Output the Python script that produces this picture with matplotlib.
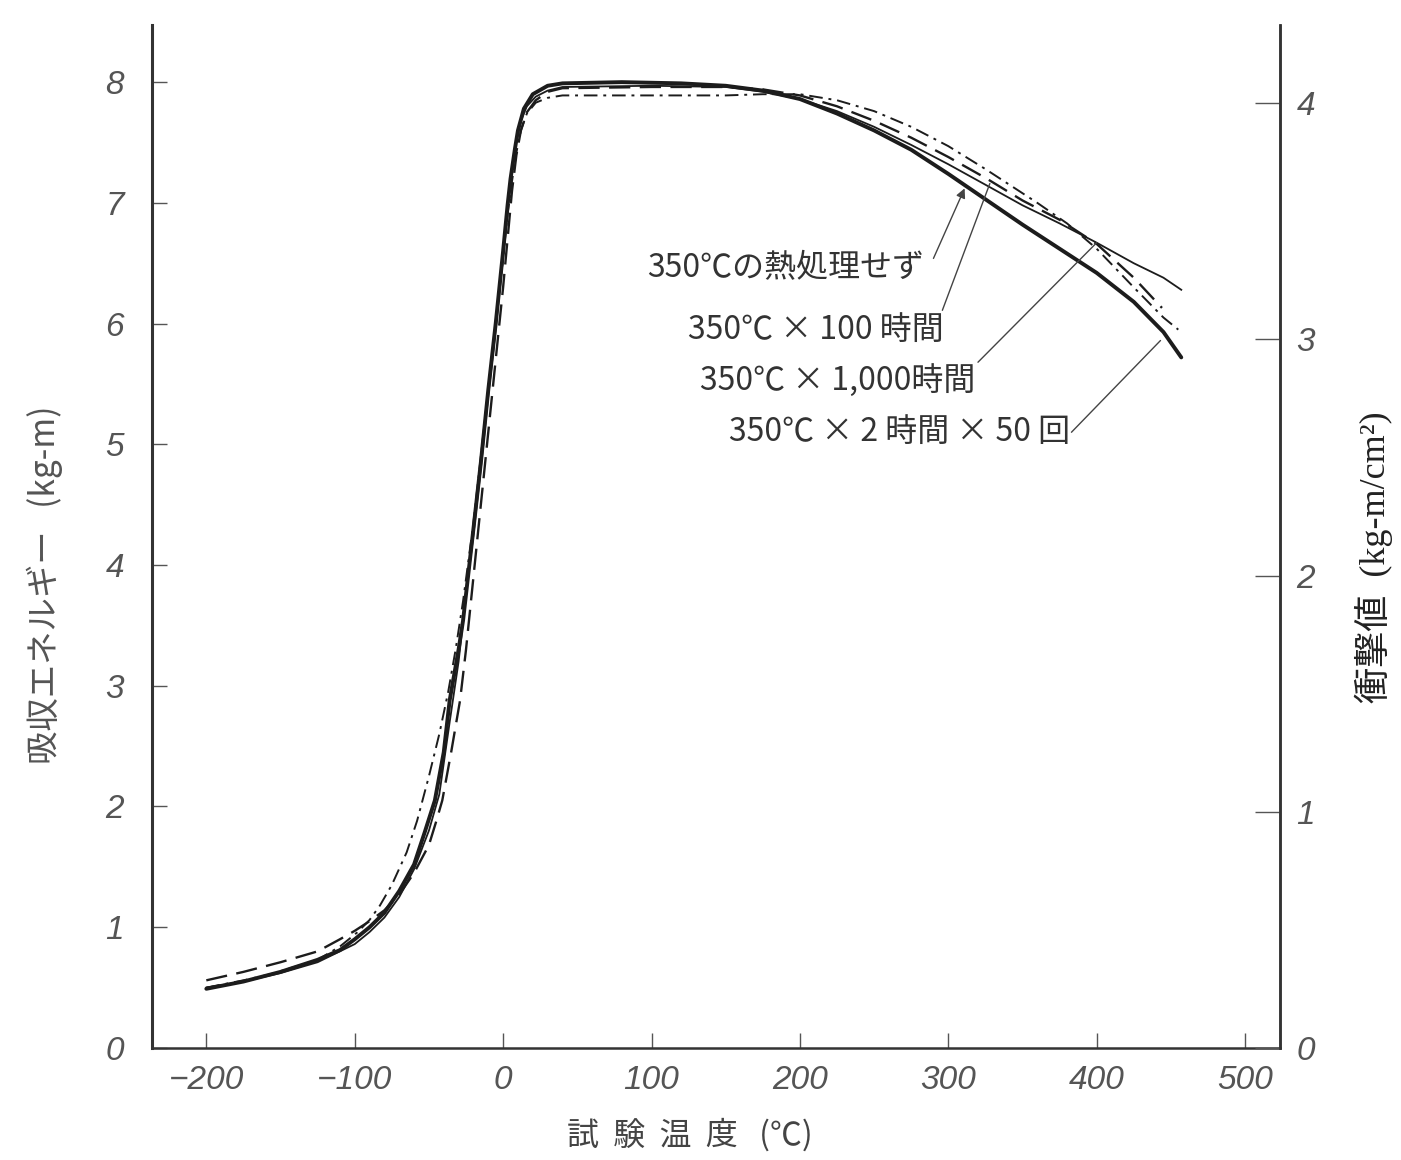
import matplotlib
matplotlib.use('Agg')
import matplotlib.pyplot as plt

plt.rcParams['font.family'] = ['Noto Sans CJK JP', 'DejaVu Sans']

# ---- data (temperature in C, absorbed energy in kg-m) ----
t_none = [-200, -175, -150, -125, -110, -100, -90, -80, -70, -60, -53, -46, -40, -36, -30, -27,
          -20, -15, -10, -5, 0, 3, 5, 8, 10, 14, 20, 30, 40, 80, 120, 150, 175, 200, 225, 250,
          275, 300, 325, 350, 375, 400, 425, 445, 457]
e_none = [0.49, 0.55, 0.63, 0.73, 0.81, 0.90, 1.00, 1.12, 1.30, 1.52, 1.78, 2.05, 2.45, 2.88, 3.30, 3.54,
          4.30, 4.85, 5.45, 6.00, 6.60, 6.98, 7.20, 7.45, 7.60, 7.78, 7.90, 7.97, 7.99, 8.00, 7.99, 7.97, 7.93, 7.86, 7.74, 7.60,
          7.44, 7.24, 7.03, 6.82, 6.62, 6.42, 6.18, 5.93, 5.72]

t_100h = [-200, -175, -150, -125, -100, -90, -80, -70, -60, -50, -43, -36, -30, -25,
          -20, -15, -10, -5, 0, 3, 6, 9, 12, 16, 22, 30, 40, 100, 150, 175, 200, 225, 250,
          275, 300, 328, 350, 375, 400, 425, 445, 457]
e_100h = [0.50, 0.55, 0.62, 0.71, 0.86, 0.96, 1.08, 1.25, 1.48, 1.80, 2.10, 2.70, 3.20, 3.75,
          4.25, 4.80, 5.40, 5.95, 6.55, 6.95, 7.28, 7.52, 7.68, 7.80, 7.88, 7.93, 7.96, 7.97, 7.96, 7.92, 7.86, 7.76, 7.63,
          7.48, 7.32, 7.13, 6.98, 6.83, 6.67, 6.50, 6.38, 6.28]

t_1000h = [-200, -175, -150, -125, -110, -100, -90, -80, -70, -60, -50, -45, -41, -35, -29, -25,
           -20, -15, -10, -5, 0, 3, 6, 9, 12, 16, 22, 30, 40, 100, 150, 175, 200, 225, 250,
           275, 300, 326, 350, 375, 400, 425, 444]
e_1000h = [0.56, 0.63, 0.71, 0.80, 0.90, 0.97, 1.05, 1.14, 1.27, 1.45, 1.68, 1.88, 2.05, 2.45, 2.88, 3.30,
           3.90, 4.50, 5.10, 5.70, 6.30, 6.70, 7.10, 7.40, 7.60, 7.75, 7.85, 7.92, 7.95, 7.96, 7.96, 7.94, 7.89, 7.80, 7.68,
           7.54, 7.38, 7.20, 7.02, 6.86, 6.66, 6.38, 6.13]

t_cyc = [-200, -175, -157, -125, -110, -98, -90, -83, -75, -65, -58, -50, -43, -37, -32, -27,
         -20, -15, -10, -5, 0, 3, 6, 9, 12, 16, 22, 30, 40, 100, 150, 175, 200, 225, 250,
         275, 300, 325, 340, 360, 380, 400, 425, 445, 455]
e_cyc = [0.50, 0.56, 0.61, 0.73, 0.84, 0.96, 1.06, 1.18, 1.35, 1.62, 1.88, 2.25, 2.60, 2.95, 3.30, 3.70,
         4.35, 4.90, 5.45, 6.00, 6.55, 6.90, 7.18, 7.42, 7.60, 7.74, 7.83, 7.87, 7.89, 7.89, 7.89, 7.90, 7.90, 7.85, 7.76,
         7.63, 7.47, 7.28, 7.16, 7.00, 6.83, 6.62, 6.30, 6.05, 5.95]

labels = ['350℃の熱処理せず', '350℃ × 100 時間', '350℃ × 1,000時間', '350℃ × 2 時間 × 50 回']
x_ticks = [-200, -100, 0, 100, 200, 300, 400, 500]
left_ticks = [0, 1, 2, 3, 4, 5, 6, 7, 8]
right_ticks = [0, 1, 2, 3, 4]
ratio = 1.9565  # kg-m per kg-m/cm2 as drawn on the two scales

ink = '#1c1c1c'

fig = plt.figure(figsize=(14.01, 11.6), dpi=100)
ax = fig.add_axes([0.1085, 0.0966, 0.8051, 0.8815])

ax.plot(t_none, e_none, color=ink, lw=2.8, solid_capstyle='round')
ax.plot(t_100h, e_100h, color=ink, lw=1.3)
ax.plot(t_1000h, e_1000h, color=ink, lw=1.7, linestyle=(0, (9, 4)))
ax.plot(t_cyc, e_cyc, color=ink, lw=1.4, linestyle=(0, (7, 3, 1.5, 3)))

ax.set_xlim(-236.6, 523.5)
ax.set_ylim(0, 8.47)
ax.set_xticks(x_ticks)
ax.set_yticks(left_ticks)
ax.set_xticklabels([str(v).replace('-', '−') for v in x_ticks])
ax.set_yticklabels([str(v) for v in left_ticks])

ax.spines['top'].set_visible(False)
for s in ['left', 'bottom', 'right']:
    ax.spines[s].set_color('#333333')
ax.spines['left'].set_linewidth(2.2)
ax.spines['bottom'].set_linewidth(1.8)
ax.spines['right'].set_linewidth(1.8)

tick_family = ['Liberation Sans', 'DejaVu Sans']
ax.tick_params(axis='x', direction='in', length=11, width=1, color='#555555', pad=12,
               labelcolor='#555555')
ax.tick_params(axis='y', direction='in', length=11, width=1, color='#555555', pad=20,
               labelcolor='#555555')
for lab in ax.get_xticklabels() + ax.get_yticklabels():
    lab.set_fontfamily(tick_family)
    lab.set_fontstyle('italic')
    lab.set_fontsize(24)

ax2 = ax.twinx()
ax2.set_ylim(0, 8.47 / ratio)
ax2.set_yticks(right_ticks)
ax2.set_yticklabels([str(v) for v in right_ticks])
for s in ['top', 'left', 'bottom']:
    ax2.spines[s].set_visible(False)
ax2.spines['right'].set_linewidth(1.8)
ax2.spines['right'].set_color('#333333')
ax2.tick_params(axis='y', direction='in', length=18, width=1, color='#555555', pad=12,
                labelcolor='#555555')
for lab in ax2.get_yticklabels():
    lab.set_fontfamily(tick_family)
    lab.set_fontstyle('italic')
    lab.set_fontsize(24)

# axis titles placed by figure fraction
fig.text(690 / 1401, 1 - 1135 / 1160, '試  験  温  度   (℃)', ha='center', va='center',
         fontsize=23, color='#444444')
fig.text(45 / 1401, 1 - 585 / 1160, '吸収エネルギー   (kg-m)', rotation=90, ha='center',
         va='center', fontsize=24, color='#555555')
fig.text(1374 / 1401, 1 - 557 / 1160, '衝撃値  (kg-m/cm²)', rotation=90, ha='center',
         va='center', fontsize=26, color='#222222',
         family=['Liberation Serif', 'Noto Sans CJK JP'])

# callouts: text end point, line start, line tip
text_pos = [(284, 6.46), (297, 5.95), (318, 5.53), (382, 5.10)]
line_start = [(290, 6.54), (296, 6.11), (320, 5.68), (383, 5.10)]
line_tip = [(311, 7.12), (328, 7.16), (400, 6.67), (443, 5.86)]

for i, lab in enumerate(labels):
    ax.text(text_pos[i][0], text_pos[i][1], lab, ha='right', va='center', fontsize=23,
            color='#333333')
    style = '-|>' if i == 0 else '-'
    ax.annotate('', xy=line_tip[i], xytext=line_start[i],
                arrowprops=dict(arrowstyle=style, color='#444444', lw=1.0,
                                mutation_scale=14, shrinkA=0, shrinkB=0))

fig.savefig('out.png', dpi=100, facecolor='white')
